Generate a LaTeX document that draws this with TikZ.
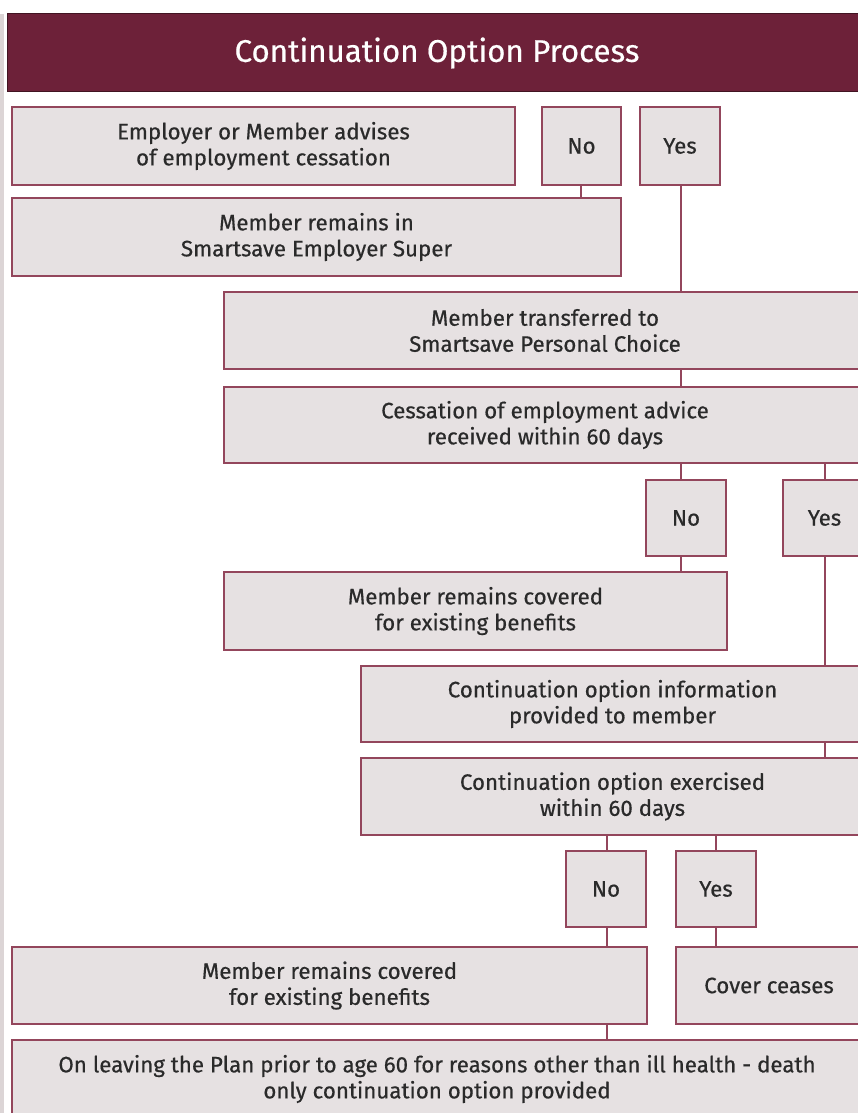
\documentclass[tikz,border=0pt]{standalone}
\usepackage{fontspec}
\setmainfont{Fira Sans}[FakeBold=0.5]
\definecolor{hdr}{HTML}{6D2139}
\definecolor{edgec}{HTML}{93465C}
\definecolor{boxfill}{HTML}{E6E1E2}
\definecolor{strip}{HTML}{DCD5D6}
\definecolor{txt}{HTML}{2A2A2A}
\newcommand\bx[6]{\node[box, minimum width={#4-#2}, minimum height={#5-#3}] (#1) at ({(#2+#4)/2},{(#3+#5)/2}) {#6};}
\begin{document}
\begin{tikzpicture}[x=1pt,y=-1pt,
  box/.style={draw=edgec, line width=1.8pt, fill=boxfill, align=center, inner sep=0pt,
    font=\fontsize{22.3}{26}\selectfont, text=txt},
  conn/.style={draw=edgec, line width=1.6pt}]
\useasboundingbox (0,0) rectangle (857,1113);
\fill[strip] (0,14) rectangle (4,1113);
\node[fill=hdr, draw=hdr!60!black, line width=1pt, minimum width=860, minimum height=78, inner sep=0pt,
  text=white, font=\fontsize{31.3}{34}\selectfont] (title) at (437,53) {Continuation Option Process};
\bx{emp}{12}{107}{515}{185}{Employer or Member advises\\of employment cessation}
\bx{no1}{542}{107}{621}{185}{No}
\bx{yes1}{640}{107}{720}{185}{Yes}
\bx{rem}{12}{198}{621}{276}{Member remains in\\Smartsave Employer Super}
\bx{tr}{224}{292}{866}{369}{Member transferred to\\Smartsave Personal Choice}
\bx{cess}{224}{387}{866}{463}{Cessation of employment advice\\received within 60 days}
\bx{no2}{646}{480}{726}{556}{No}
\bx{yes2}{783}{480}{866}{556}{Yes}
\bx{rc1}{224}{572}{727}{650}{Member remains covered\\for existing benefits}
\bx{info}{361}{666}{864}{742}{Continuation option information\\provided to member}
\bx{exer}{361}{758}{864}{835}{Continuation option exercised\\within 60 days}
\bx{no3}{566}{851}{646}{927}{No}
\bx{yes3}{676}{851}{756}{927}{Yes}
\bx{rc2}{12}{947}{647}{1024}{Member remains covered\\for existing benefits}
\bx{cease}{676}{947}{862}{1024}{Cover ceases}
\bx{fin}{12}{1040}{862}{1118}{On leaving the Plan prior to age 60 for reasons other than ill health - death\\only continuation option provided}
\coordinate (c1) at (581,0);
\coordinate (c2) at (681,0);
\coordinate (c3) at (825,0);
\coordinate (c4) at (607,0);
\coordinate (c5) at (716,0);
\draw[conn] (no1.south -| c1) -- (rem.north -| c1);
\draw[conn] (yes1.south -| c2) -- (tr.north -| c2);
\draw[conn] (tr.south -| c2) -- (cess.north -| c2);
\draw[conn] (cess.south -| c2) -- (no2.north -| c2);
\draw[conn] (cess.south -| c3) -- (yes2.north -| c3);
\draw[conn] (no2.south -| c2) -- (rc1.north -| c2);
\draw[conn] (yes2.south -| c3) -- (info.north -| c3);
\draw[conn] (info.south -| c3) -- (exer.north -| c3);
\draw[conn] (exer.south -| c4) -- (no3.north -| c4);
\draw[conn] (exer.south -| c5) -- (yes3.north -| c5);
\draw[conn] (no3.south -| c4) -- (rc2.north -| c4);
\draw[conn] (yes3.south -| c5) -- (cease.north -| c5);
\draw[conn] (rc2.south -| c4) -- (fin.north -| c4);
\end{tikzpicture}
\end{document}
